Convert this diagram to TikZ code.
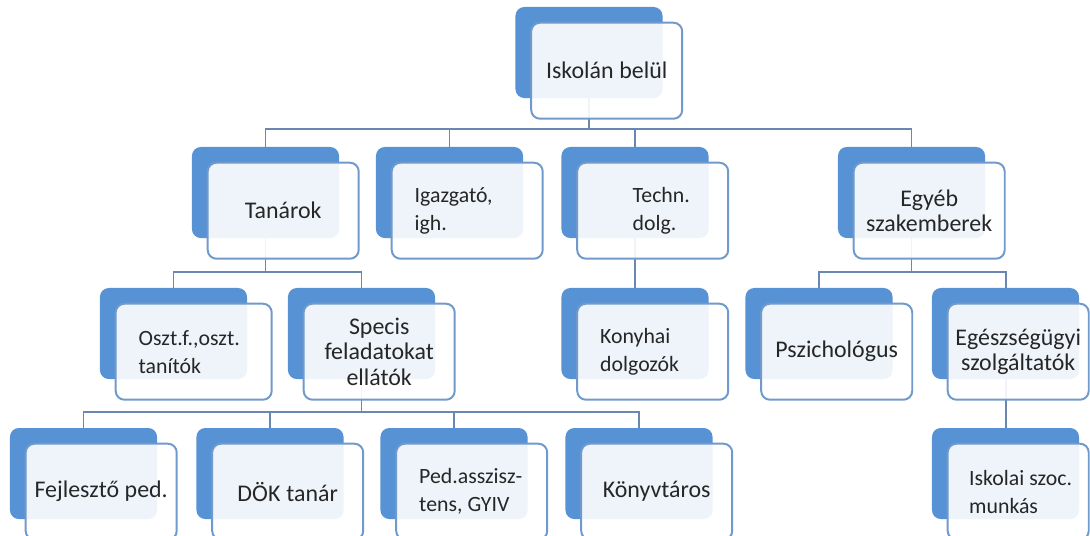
\documentclass[tikz,border=0pt]{standalone}
\usepackage{fontspec}
\setmainfont{Carlito}
\definecolor{boxblue}{RGB}{86,146,212}
\definecolor{edgeblue}{RGB}{112,154,204}
\definecolor{linkblue}{RGB}{104,136,178}
\begin{document}
\begin{tikzpicture}[x=0.025cm, y=-0.025cm,
  every node/.style={text=black!85, execute at begin node={\spaceskip=0.23em plus 0.05em\relax}},
  back/.style={fill=boxblue, rounded corners=0.22cm, minimum width=3.675cm, minimum height=2.275cm, inner sep=0pt},
  front/.style={fill=white, fill opacity=0.9, text opacity=1, draw=edgeblue, line width=1.4pt, rounded corners=0.22cm, minimum height=2.4cm, inner sep=0pt, anchor=north west},
  conn/.style={draw=linkblue, line width=1.4pt}]
  \useasboundingbox (0,0) rectangle (1090,535);
  % bus lines
  \coordinate (bus0) at (0,129);
  \coordinate (bus1) at (0,272);
  \coordinate (bus2) at (0,412);
  % back plate centres
  \foreach \n/\x/\y in {isk/589/52.5, tan/265.5/192.5, igh/449.5/192.5, tech/635/192.5, egy/911.5/192.5,
      oszt/173.5/333.5, spec/361.5/333.5, kony/635/333.5, psz/819/333.5, egs/1005.5/333.5,
      fej/83.5/473.5, dok/270/473.5, ped/454/473.5, konyv/639/473.5, iskszoc/1005.5/473.5} {
    \coordinate (\n-c) at (\x,\y);
  }
  % connectors
  \foreach \c in {tan,igh,tech,egy}
    \draw[conn] (isk-c) |- (\c-c |- bus0) -- ([yshift=-1.1cm]\c-c);
  \foreach \c in {oszt,spec}
    \draw[conn] (tan-c) |- (\c-c |- bus1) -- ([yshift=-1.1cm]\c-c);
  \foreach \c in {psz,egs}
    \draw[conn] (egy-c) |- (\c-c |- bus1) -- ([yshift=-1.1cm]\c-c);
  \foreach \c in {fej,dok,ped,konyv}
    \draw[conn] (spec-c) |- (\c-c |- bus2) -- ([yshift=-1.1cm]\c-c);
  \draw[conn] (tech-c) -- ([yshift=-1.1cm]kony-c);
  \draw[conn] (egs-c) -- ([yshift=-1.1cm]iskszoc-c);
  % boxes: name/front width/align/text width/font size/baselineskip/text
  \foreach \n/\m/\a/\w/\f/\b/\t in {isk/3.775/center/3.5/17/18.2/{Iskolán belül},
      tan/3.775/center/3.5/17/18.2/{Tanárok},
      igh/3.775/left/2.625/15.5/20/{Igazgató,\\igh.},
      tech/3.775/left/1.0/15.5/20/{Techn.\\dolg.},
      egy/3.775/center/3.5/17/18.2/{Egyéb\\szakemberek},
      oszt/3.9/left/2.75/15.5/20/{Oszt.f.,oszt.\\tanítók},
      spec/3.775/center/3.5/17/18.2/{Specis\\feladatokat\\ellátók},
      kony/3.775/left/2.625/15.5/20/{Konyhai\\dolgozók},
      psz/3.775/center/3.5/17/18.2/{Pszichológus},
      egs/3.525/center/3.4/17/18.2/{Egészségügyi\\szolgáltatók},
      fej/3.775/center/3.5/17/18.2/{Fejlesztő ped.},
      dok/3.775/center/3.5/17/18.2/{DÖK tanár},
      ped/3.775/left/2.625/15.5/20/{Ped.asszisz-\\tens, GYIV},
      konyv/3.775/center/3.5/17/18.2/{Könyvtáros},
      iskszoc/3.525/left/2.45/15.5/20/{Iskolai~szoc.\\munkás}} {
    \node[back] (\n-b) at (\n-c) {};
    \node[front, minimum width=\m cm, align=\a, text width=\w cm, font=\fontsize{\f}{\b}\selectfont] (\n) at ([shift={(15,15)}]\n-b.north west) {\t};
  }
\end{tikzpicture}
\end{document}
